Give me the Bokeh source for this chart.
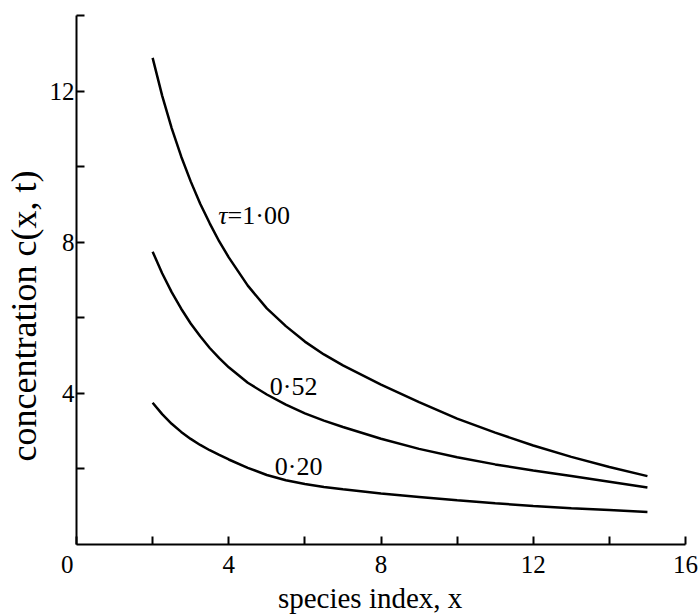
from bokeh.plotting import figure
from bokeh.models import Range1d, FixedTicker, ColumnDataSource
from bokeh.core.properties import value
from bokeh.embed import file_html
from bokeh.resources import INLINE

# ---- data ----
species_x = [2, 2.25, 2.5, 2.75, 3, 3.25, 3.5, 3.75, 4, 4.5, 5, 5.5, 6, 6.5, 7,
             8, 9, 10, 11, 12, 13, 14, 15]
conc_tau_100 = [12.88, 11.88, 11.02, 10.27, 9.61, 9.02, 8.50, 8.02, 7.60, 6.85, 6.25, 5.78, 5.37, 5.03, 4.74,
                4.23, 3.77, 3.33, 2.96, 2.62, 2.32, 2.05, 1.81]
conc_tau_052 = [7.75, 7.18, 6.68, 6.24, 5.85, 5.51, 5.20, 4.93, 4.69, 4.28, 3.97, 3.70, 3.47, 3.28, 3.11,
                2.80, 2.53, 2.31, 2.12, 1.96, 1.81, 1.66, 1.51]
conc_tau_020 = [3.75, 3.45, 3.195, 2.98, 2.795, 2.635, 2.495, 2.37, 2.25, 2.03, 1.84, 1.70, 1.60, 1.52, 1.46,
                1.35, 1.26, 1.17, 1.09, 1.02, 0.96, 0.91, 0.86]

curve_label_text = ["=1\u00b700", "0\u00b752", "0\u00b720"]
curve_label_x = [3.97, 5.08, 5.21]
curve_label_y = [8.72, 4.19, 2.06]
tau_symbol = ["\u03c4"]

NBSP = "\u00a0"
x_ticks = [0, 2, 4, 6, 8, 10, 12, 14, 16]
x_tick_labels = {0: "0" + NBSP * 3, 2: "", 4: "4", 6: "", 8: "8", 10: "", 12: "12", 14: "", 16: "16"}
y_ticks = [2, 4, 6, 8, 10, 12, 14]
y_tick_labels = {2: "", 4: "4", 6: "", 8: "8", 10: "", 12: "12", 14: ""}
x_title = "species index, x" + NBSP * 3
y_title = "concentration c(x, t)" + NBSP * 8

FONT = "Liberation Serif"

p = figure(width=698, height=616, output_backend="svg", toolbar_location=None,
           x_range=Range1d(0, 16), y_range=Range1d(0, 14),
           min_border_left=74, min_border_right=13, min_border_top=15, min_border_bottom=69)
p.outline_line_color = None
p.xgrid.visible = False
p.ygrid.visible = False
p.background_fill_color = "white"
p.border_fill_color = "white"

for ax in (p.xaxis[0], p.yaxis[0]):
    ax.axis_line_width = 2
    ax.axis_line_color = "black"
    ax.major_tick_line_width = 2
    ax.major_tick_line_color = "black"
    ax.major_tick_in = 8
    ax.major_tick_out = 0
    ax.minor_tick_line_color = None
    ax.major_label_text_font = FONT
    ax.major_label_text_font_size = "25px"
    ax.major_label_text_color = "black"
    ax.axis_label_text_font = FONT
    ax.axis_label_text_font_style = "normal"
    ax.axis_label_text_color = "black"

p.xaxis[0].ticker = FixedTicker(ticks=x_ticks)
p.xaxis[0].major_label_overrides = x_tick_labels
p.xaxis[0].major_label_standoff = 6
p.xaxis[0].axis_label = x_title
p.xaxis[0].axis_label_text_font_size = "29px"
p.xaxis[0].axis_label_standoff = 1

p.yaxis[0].ticker = FixedTicker(ticks=y_ticks)
p.yaxis[0].major_label_overrides = y_tick_labels
p.yaxis[0].major_label_standoff = 2
p.yaxis[0].axis_label = y_title
p.yaxis[0].axis_label_text_font_size = "36px"
p.yaxis[0].axis_label_standoff = 3

for ys in (conc_tau_100, conc_tau_052, conc_tau_020):
    p.line(species_x, ys, line_color="black", line_width=2.5)

src = ColumnDataSource(dict(x=curve_label_x, y=curve_label_y, t=curve_label_text))
p.text(x="x", y="y", text="t", source=src, text_font=value(FONT),
       text_font_size="26px", text_align="left", text_baseline="alphabetic",
       text_color="black")
tau_src = ColumnDataSource(dict(x=curve_label_x[:1], y=curve_label_y[:1], t=tau_symbol))
p.text(x="x", y="y", text="t", source=tau_src, text_font=value(FONT),
       text_font_size="26px", text_font_style="italic", text_align="right",
       text_baseline="alphabetic", text_color="black")

open("out.html", "w").write(file_html(p, INLINE))
